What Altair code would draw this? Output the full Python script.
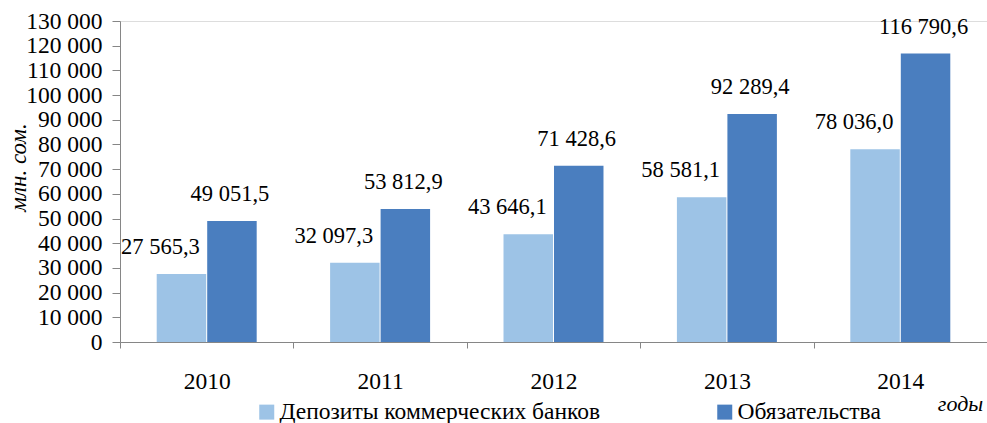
import altair as alt
import pandas as pd

years = ["2010", "2011", "2012", "2013", "2014"]
deposits = [27565.3, 32097.3, 43646.1, 58581.1, 78036.0]
liabilities = [49051.5, 53812.9, 71428.6, 92289.4, 116790.6]
series = ["Депозиты коммерческих банков", "Обязательства"]
colors = ["#9dc3e6", "#4a7ebf"]
y_ticks = list(range(0, 130001, 10000))

rows = []
for i, yr in enumerate(years):
    rows.append({"year": yr, "series": series[0], "value": deposits[i]})
    rows.append({"year": yr, "series": series[1], "value": liabilities[i]})
df = pd.DataFrame(rows)

FONT = "Liberation Serif"
AXC = "#868686"

x = alt.X(
    "year:N", sort=years,
    scale=alt.Scale(paddingInner=0, paddingOuter=0),
    axis=alt.Axis(
        title="годы", tickBand="extent", labelAngle=0, labelFontSize=23.5,
        labelPadding=21, tickSize=6, domainColor=AXC, tickColor=AXC,
        labelColor="black", labelFont=FONT,
        titleFont=FONT, titleFontStyle="italic", titleFontWeight="normal",
        titleFontSize=22, titleX=840, titleY=61, titleAlign="center",
        titleBaseline="middle", titleColor="black",
    ),
)
xo = alt.XOffset("series:N", sort=series,
                 scale=alt.Scale(paddingInner=0.02, paddingOuter=0.727))
y = alt.Y(
    "value:Q",
    scale=alt.Scale(domain=[0, 130000], nice=False),
    axis=alt.Axis(
        values=y_ticks, grid=False,
        labelExpr="replace(format(datum.value, ','), ',', ' ')",
        labelFontSize=23.5, labelFont=FONT, labelColor="black",
        labelPadding=10, tickSize=8, domainColor=AXC, tickColor=AXC,
        title="млн. сом.", titleFont=FONT, titleFontStyle="italic",
        titleFontWeight="normal", titleFontSize=23, titleX=-102, titleY=146,
        titleAlign="center", titleBaseline="middle", titleColor="black",
    ),
)
color = alt.Color(
    "series:N", sort=series,
    scale=alt.Scale(domain=series, range=colors),
    legend=alt.Legend(
        orient="none", legendX=135, legendY=379, direction="horizontal",
        columns=2, columnPadding=112, symbolType="square", symbolSize=225,
        symbolStrokeWidth=0, labelFontSize=23.5, labelFont=FONT,
        labelColor="black", labelOffset=1, title=None, labelLimit=500,
    ),
)

base = alt.Chart(df).encode(x=x, xOffset=xo, y=y)

bars = base.mark_bar().encode(color=color)

label_expr = "replace(replace(format(datum.value, ',.1f'), ',', ' '), '.', ',')"
lab_light = base.transform_filter(alt.datum.series == series[0]).transform_calculate(
    label=label_expr
).mark_text(fontSize=22.5, font=FONT, baseline="alphabetic", dy=-20, dx=-21,
            color="black").encode(text="label:N")
lab_dark = base.transform_filter(alt.datum.series == series[1]).transform_calculate(
    label=label_expr
).mark_text(fontSize=22.5, font=FONT, baseline="alphabetic", dy=-20, dx=-2,
            color="black").encode(text="label:N")

chart = alt.layer(bars, lab_light, lab_dark).properties(
    width=867, height=321,
    autosize=alt.AutoSizeParams(type="none"),
    padding={"left": 120, "top": 21, "right": 0, "bottom": 81},
).configure_view(stroke=None).configure(font=FONT)

chart.save("out.html", embed_options={"renderer": "svg", "actions": False})
